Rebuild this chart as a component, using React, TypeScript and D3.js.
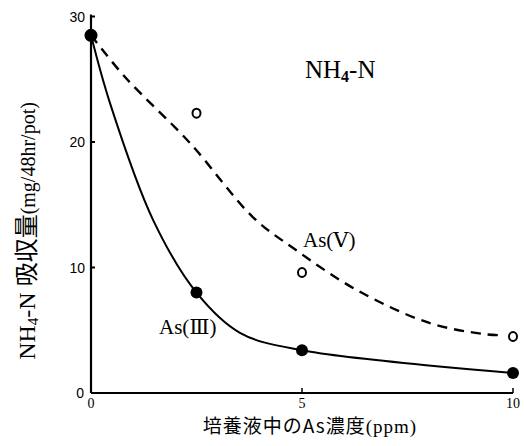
import React from "react";
import * as d3 from "d3";

const xTicks = [0, 5, 10];
const yTicks = [0, 10, 20, 30];

// measured points
const as3X = [0, 2.5, 5, 10];
const as3Y = [28.5, 8.0, 3.4, 1.6];
const as5X = [2.5, 5, 10];
const as5Y = [22.3, 9.6, 4.5];

// hand-drawn fitted curves
const as3CurveX = [0, 0.45, 1.47, 2.5, 3.53, 5, 10];
const as3CurveY = [28.5, 23.1, 13.8, 8.0, 4.8, 3.4, 1.6];
const as5CurveX = [0, 0.8, 2.35, 3.84, 4.79, 6.3, 8.0, 9.3, 9.75];
const as5CurveY = [28.5, 25.2, 19.9, 14.0, 11.55, 8.2, 5.6, 4.7, 4.6];

const W = 524;
const H = 446;

export default function App() {
  const x = d3.scaleLinear().domain([0, 10]).range([91, 513]);
  const y = d3.scaleLinear().domain([0, 30]).range([393, 16.5]);

  const line = d3
    .line<[number, number]>()
    .x((d) => x(d[0]))
    .y((d) => y(d[1]))
    .curve(d3.curveCatmullRom.alpha(0.5));

  const as3Path = line(as3CurveX.map((v, i) => [v, as3CurveY[i]]) as [number, number][]) || "";
  const as5Path = line(as5CurveX.map((v, i) => [v, as5CurveY[i]]) as [number, number][]) || "";

  const serif = "'Liberation Serif', 'DejaVu Serif', serif";
  const sans = "'Liberation Sans', Arial, sans-serif";
  const cjk = "'Noto Sans CJK JP', sans-serif";

  return (
    <svg
      width={W}
      height={H}
      style={{ position: "absolute", left: 0, top: 0, background: "#fff" }}
    >
      {/* axes */}
      <line x1={x(0)} y1={y(0)} x2={x(0)} y2={y(30) - 2} stroke="#000" strokeWidth={2.2} />
      <line x1={x(0)} y1={y(0)} x2={x(10)} y2={y(0)} stroke="#000" strokeWidth={2} />

      {/* y ticks */}
      {yTicks.map((t) => (
        <g key={"y" + t}>
          {t > 0 && (
            <line x1={x(0)} x2={x(0) + 4} y1={y(t)} y2={y(t)} stroke="#000" strokeWidth={2} />
          )}
          <text
            x={t === 0 ? 84 : 85}
            y={y(t) + 5}
            textAnchor="end"
            fontFamily={sans}
            fontSize={14}
            fill="#000"
          >
            {t}
          </text>
        </g>
      ))}

      {/* x ticks */}
      {xTicks.map((t) => (
        <g key={"x" + t}>
          {t > 0 && (
            <line x1={x(t)} x2={x(t)} y1={y(0)} y2={y(0) - 5} stroke="#000" strokeWidth={1.5} />
          )}
          <text
            x={x(t)}
            y={408}
            textAnchor="middle"
            fontFamily={serif}
            fontSize={14}
            fill="#000"
          >
            {t}
          </text>
        </g>
      ))}

      {/* curves */}
      <path d={as5Path} fill="none" stroke="#000" strokeWidth={2.4} strokeDasharray="10,7" />
      <path d={as3Path} fill="none" stroke="#000" strokeWidth={2} />

      {/* As(III) points */}
      {as3X.map((v, i) => (
        <circle key={"p3" + i} cx={x(v)} cy={y(as3Y[i])} r={i === 0 ? 6.5 : 6} fill="#000" />
      ))}
      {/* As(V) points */}
      {as5X.map((v, i) => (
        <ellipse
          key={"p5" + i}
          cx={x(v)}
          cy={y(as5Y[i])}
          rx={4}
          ry={4.5}
          fill="#fff"
          stroke="#000"
          strokeWidth={2}
        />
      ))}

      {/* annotations */}
      <text x={305} y={78} fontFamily={serif} fontSize={25} fill="#000">
        NH
        <tspan fontSize={16} dy={4} fontWeight="bold">4</tspan>
        <tspan dy={-4}>-N</tspan>
      </text>
      <text x={303} y={247} fontFamily={serif} fontSize={21} fill="#000">
        As(Ⅴ)
      </text>
      <text x={159} y={334} fontFamily={serif} fontSize={21} fill="#000">
        As(Ⅲ)
      </text>

      {/* x label */}
      <text
        x={310}
        y={433}
        textAnchor="middle"
        fontFamily={cjk}
        fontSize={19}
        letterSpacing={1}
        fill="#000"
      >
        培養液中のAs濃度
        <tspan fontFamily={serif}>(ppm)</tspan>
      </text>

      {/* y label */}
      <text
        transform="translate(35,231) rotate(-90)"
        textAnchor="middle"
        fontFamily={serif}
        fontSize={24}
        fill="#000"
      >
        NH
        <tspan fontSize={15} dy={3}>4</tspan>
        <tspan dy={-3}>-N </tspan>
        <tspan fontFamily={cjk} fontSize={24}>吸収量</tspan>
        <tspan fontSize={20}>(mg/48hr/pot)</tspan>
      </text>
    </svg>
  );
}
